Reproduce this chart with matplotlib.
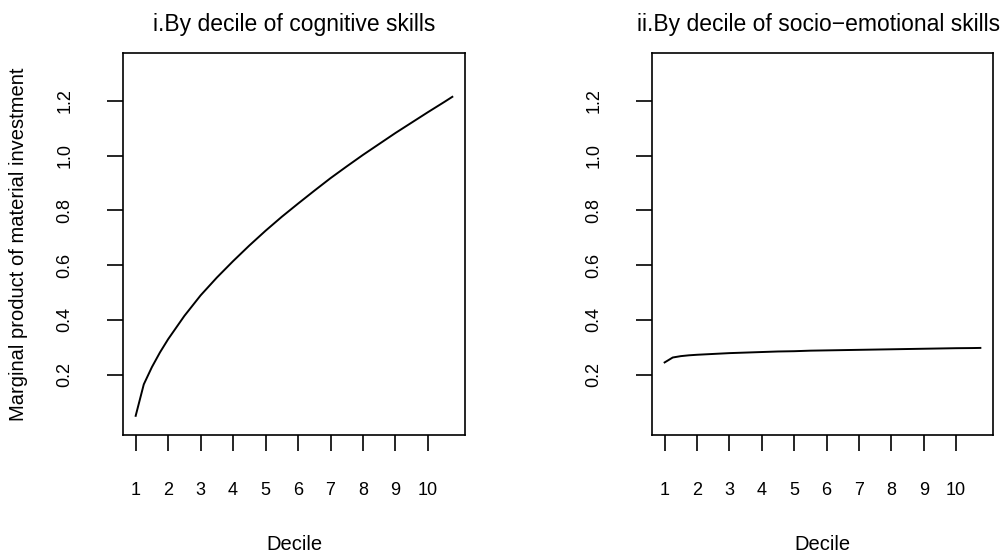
import matplotlib
matplotlib.use("Agg")
import matplotlib.pyplot as plt

plt.rcParams['font.family'] = ['Liberation Sans', 'DejaVu Sans']

# x positions along the decile scale (curve evaluated past decile 10)
decile_x = [1, 1.25, 1.5, 1.75, 2, 2.5, 3, 3.5, 4, 4.5, 5, 5.5, 6, 6.5,
            7, 7.5, 8, 8.5, 9, 9.5, 10, 10.5, 10.75]

# marginal product of material investment
cognitive = [0.05, 0.165, 0.228, 0.282, 0.33, 0.415, 0.49, 0.555, 0.615,
             0.672, 0.726, 0.777, 0.825, 0.872, 0.918, 0.961, 1.003, 1.043,
             1.083, 1.121, 1.159, 1.196, 1.215]
socio_emotional = [0.245, 0.263, 0.268, 0.271, 0.273, 0.276, 0.279, 0.281,
                   0.283, 0.285, 0.286, 0.288, 0.289, 0.290, 0.291, 0.292,
                   0.293, 0.294, 0.295, 0.296, 0.297, 0.2975, 0.298]

xticks = [1, 2, 3, 4, 5, 6, 7, 8, 9, 10]
yticks = [0.2, 0.4, 0.6, 0.8, 1.0, 1.2]
titles = ["i.By decile of cognitive skills",
          "ii.By decile of socio\u2212emotional skills"]

W, H = 1008, 552
fig = plt.figure(figsize=(W / 100, H / 100), dpi=100)

boxes = [(123, 53, 342, 382), (652, 53, 341, 382)]
series = [cognitive, socio_emotional]
title_x = [294, 819]

for (bx, by, bw, bh), yv, title, tx in zip(boxes, series, titles, title_x):
    ax = fig.add_axes([bx / W, (H - by - bh) / H, bw / W, bh / H])
    ax.plot(decile_x, yv, color='black', lw=1.4)
    ax.set_xlim(0.61, 11.14)
    ax.set_ylim(-0.02, 1.375)
    ax.set_xticks(xticks)
    ax.set_xticklabels([str(t) for t in xticks], fontsize=13)
    ax.set_yticks(yticks)
    ax.set_yticklabels(["%.1f" % t for t in yticks], fontsize=13,
                       rotation=90, va='center')
    ax.tick_params(axis='x', length=11.5, width=1.2, pad=22)
    ax.tick_params(axis='y', length=11.5, width=1.2, pad=24)
    for s in ax.spines.values():
        s.set_linewidth(1.2)
    fig.text(tx / W, 1 - 31 / H, title, ha='center', va='baseline', fontsize=16.5)
    fig.text((bx + bw / 2) / W, 1 - 544 / H, "Decile", ha='center', va='center',
             fontsize=14.5)

fig.text(19 / W, 1 - 244 / H, "Marginal product of material investment",
         rotation=90, ha='center', va='center', fontsize=14.5)

fig.savefig("out.png", dpi=100)
